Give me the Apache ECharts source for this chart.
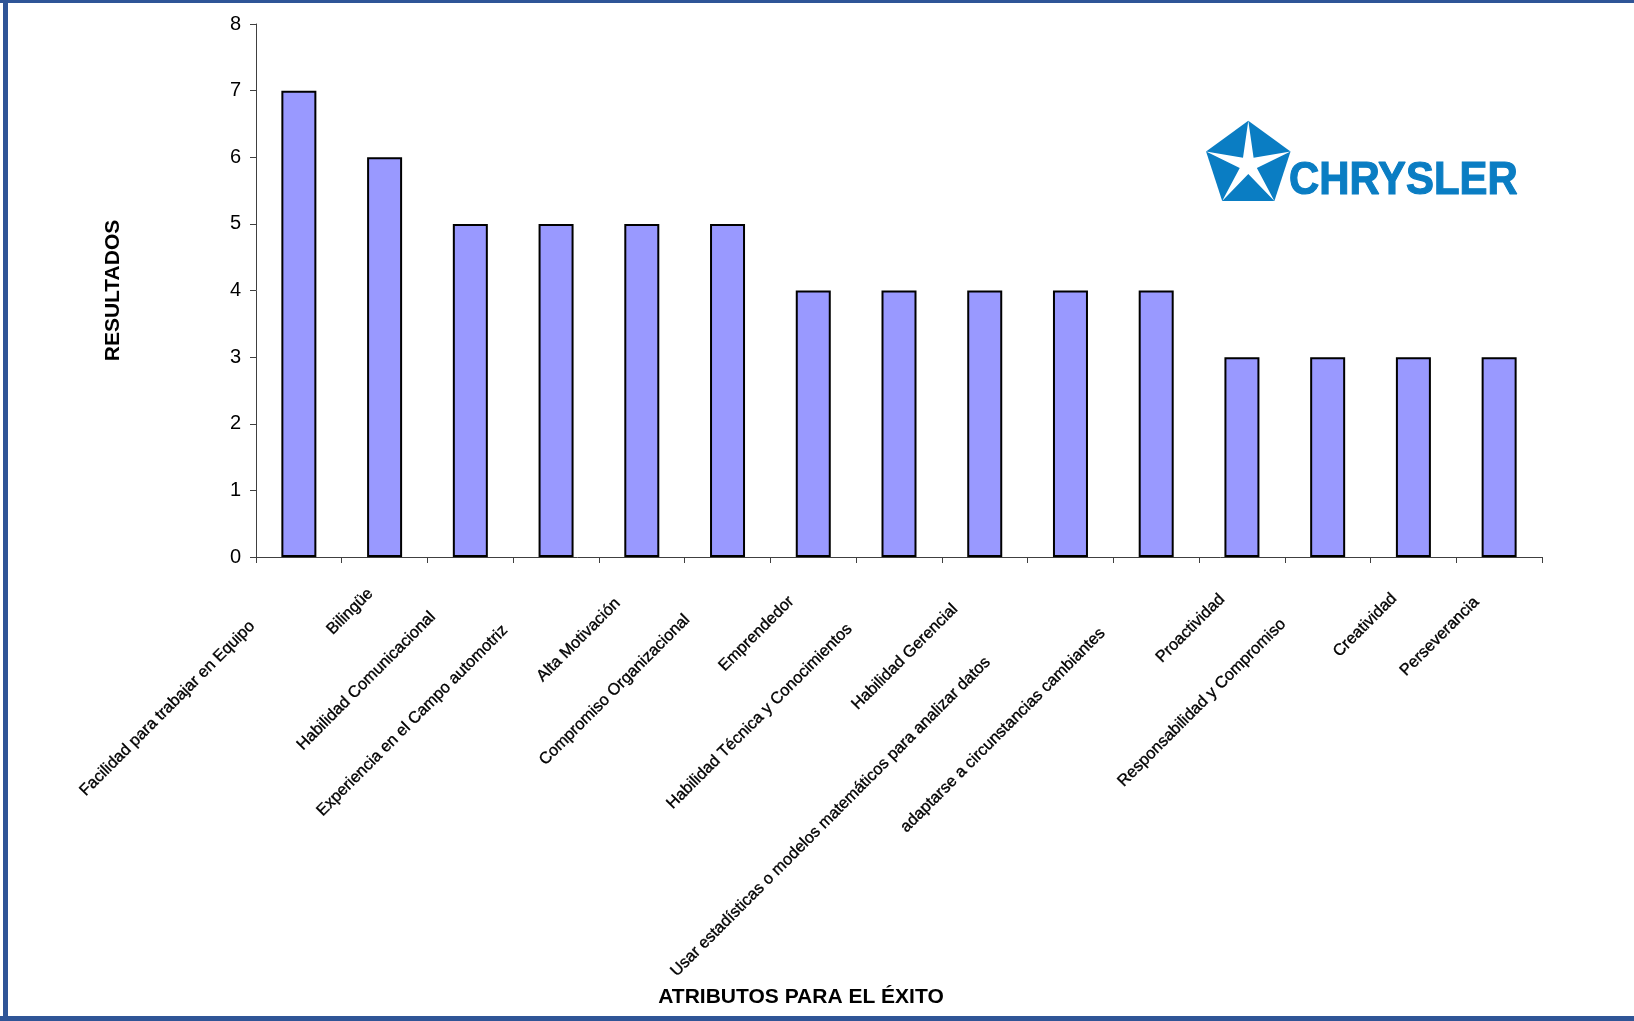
<!DOCTYPE html>
<html>
<head>
<meta charset="utf-8">
<script src="https://cdn.jsdelivr.net/npm/echarts@6/dist/echarts.min.js"></script>
<style>
  html, body { margin: 0; padding: 0; background: #ffffff; }
  #chart { width: 1634px; height: 1021px; }
</style>
</head>
<body>
<div id="chart"></div>
<script>
// Attributes for success and the number of results for each one
const categories = [
  'Facilidad para trabajar en Equipo',
  'Bilingüe',
  'Habilidad Comunicacional',
  'Experiencia en el Campo automotriz',
  'Alta Motivación',
  'Compromiso Organizacional',
  'Emprendedor',
  'Habilidad Técnica y Conocimientos',
  'Habilidad Gerencial',
  'Usar estadísticas o modelos matemáticos para analizar datos',
  'adaptarse a circunstancias cambiantes',
  'Proactividad',
  'Responsabilidad y Compromiso',
  'Creatividad',
  'Perseverancia'
];
const values = [7, 6, 5, 5, 5, 5, 4, 4, 4, 4, 4, 3, 3, 3, 3];
const yAxisTitle = 'RESULTADOS';
const xAxisTitle = 'ATRIBUTOS PARA EL ÉXITO';
const brandName = 'CHRYSLER';

// Font for the slanted category labels: a narrow sans if present, otherwise the regular one
const measureCtx = document.createElement('canvas').getContext('2d');
function widthOf(font, s) { measureCtx.font = font; return measureCtx.measureText(s).width; }
const probe = 'Habilidad Comunicacional';
const hasNarrow = widthOf('20px "Liberation Sans Narrow", monospace', probe) !== widthOf('20px monospace', probe);
const labelFamily = hasNarrow ? '"Liberation Sans Narrow"' : '"Liberation Sans"';
const labelSize = hasNarrow ? 19.2 : 16.3;

// Each slanted label sits a little short of its tick, the gap growing with its length
const categoryData = categories.map(function (name) {
  const w = widthOf(labelSize + 'px ' + labelFamily, name);
  return { value: name, textStyle: { padding: [0, Math.round(0.25 * w + 6), 0, 0] } };
});

// Pentastar emblem geometry
const starCx = 1248.3, starCy = 165.1, starR = 44.4, starInner = 9;
function pentagonPoints() {
  const pts = [];
  for (let i = 0; i < 5; i++) {
    const a = -Math.PI / 2 + i * 2 * Math.PI / 5;
    pts.push([starCx + starR * Math.cos(a), starCy + starR * Math.sin(a)]);
  }
  return pts;
}
function starPoints() {
  const pts = [];
  for (let i = 0; i < 10; i++) {
    const a = -Math.PI / 2 + i * Math.PI / 5;
    const r = i % 2 === 0 ? starR : starInner;
    pts.push([starCx + r * Math.cos(a), starCy + r * Math.sin(a)]);
  }
  return pts;
}

const frameColor = '#2F5597';
const brandColor = '#0A7DC3';
const sansBold = '"Liberation Sans", Arial, sans-serif';

const chart = echarts.init(document.getElementById('chart'), null, { renderer: 'canvas' });
chart.setOption({
  animation: false,
  backgroundColor: '#ffffff',
  grid: {
    left: 256, right: 92, top: 24, bottom: 464,
    containLabel: false,
    outerBoundsMode: 'none'
  },
  xAxis: {
    type: 'category',
    data: categoryData,
    boundaryGap: true,
    name: xAxisTitle,
    nameLocation: 'middle',
    nameGap: 420,
    nameTextStyle: {
      fontFamily: sansBold,
      fontWeight: 'bold', fontSize: 21, color: '#000000',
      padding: [0, 196, 0, 0]
    },
    axisLine: { show: true, lineStyle: { color: '#404040', width: 1 } },
    axisTick: { show: true, alignWithLabel: false, length: 6, lineStyle: { color: '#404040' } },
    axisLabel: {
      interval: 0,
      rotate: 45,
      margin: 20,
      hideOverlap: false,
      fontFamily: labelFamily,
      fontSize: labelSize,
      color: '#000000',
      textBorderColor: '#000000',
      textBorderWidth: 0.35
    },
    splitLine: { show: false }
  },
  yAxis: {
    type: 'value',
    min: 0, max: 8, interval: 1,
    name: yAxisTitle,
    nameLocation: 'middle',
    nameGap: 132,
    nameTextStyle: {
      fontFamily: sansBold,
      fontWeight: 'bold', fontSize: 21, color: '#000000'
    },
    axisLine: { show: true, lineStyle: { color: '#404040', width: 1 } },
    axisTick: { show: true, length: 6, lineStyle: { color: '#404040' } },
    axisLabel: {
      margin: 15,
      fontFamily: sansBold,
      fontSize: 20,
      color: '#000000'
    },
    splitLine: { show: false }
  },
  series: [{
    type: 'bar',
    data: values,
    barWidth: 35,
    itemStyle: { color: '#9999FF', borderColor: '#000000', borderWidth: 2 }
  }],
  graphic: [
    // blue frame around the sheet
    { type: 'rect', shape: { x: 0, y: 0, width: 1634, height: 3 }, style: { fill: frameColor }, silent: true },
    { type: 'rect', shape: { x: 3, y: 0, width: 5, height: 1021 }, style: { fill: frameColor }, silent: true },
    { type: 'rect', shape: { x: 0, y: 1016, width: 1634, height: 5 }, style: { fill: frameColor }, silent: true },
    // brand emblem and wordmark
    { type: 'polygon', shape: { points: pentagonPoints() }, style: { fill: brandColor }, silent: true },
    { type: 'polygon', shape: { points: starPoints() }, style: { fill: '#ffffff' }, silent: true },
    {
      type: 'text',
      x: 1289, y: 181,
      scaleX: 0.9, scaleY: 1,
      style: {
        text: brandName,
        x: 0, y: 0,
        fill: brandColor,
        stroke: brandColor,
        lineWidth: 1.2,
        font: 'bold 46.5px "Liberation Sans", Arial, sans-serif',
        align: 'left',
        verticalAlign: 'middle'
      },
      silent: true
    }
  ]
});
</script>
</body>
</html>
